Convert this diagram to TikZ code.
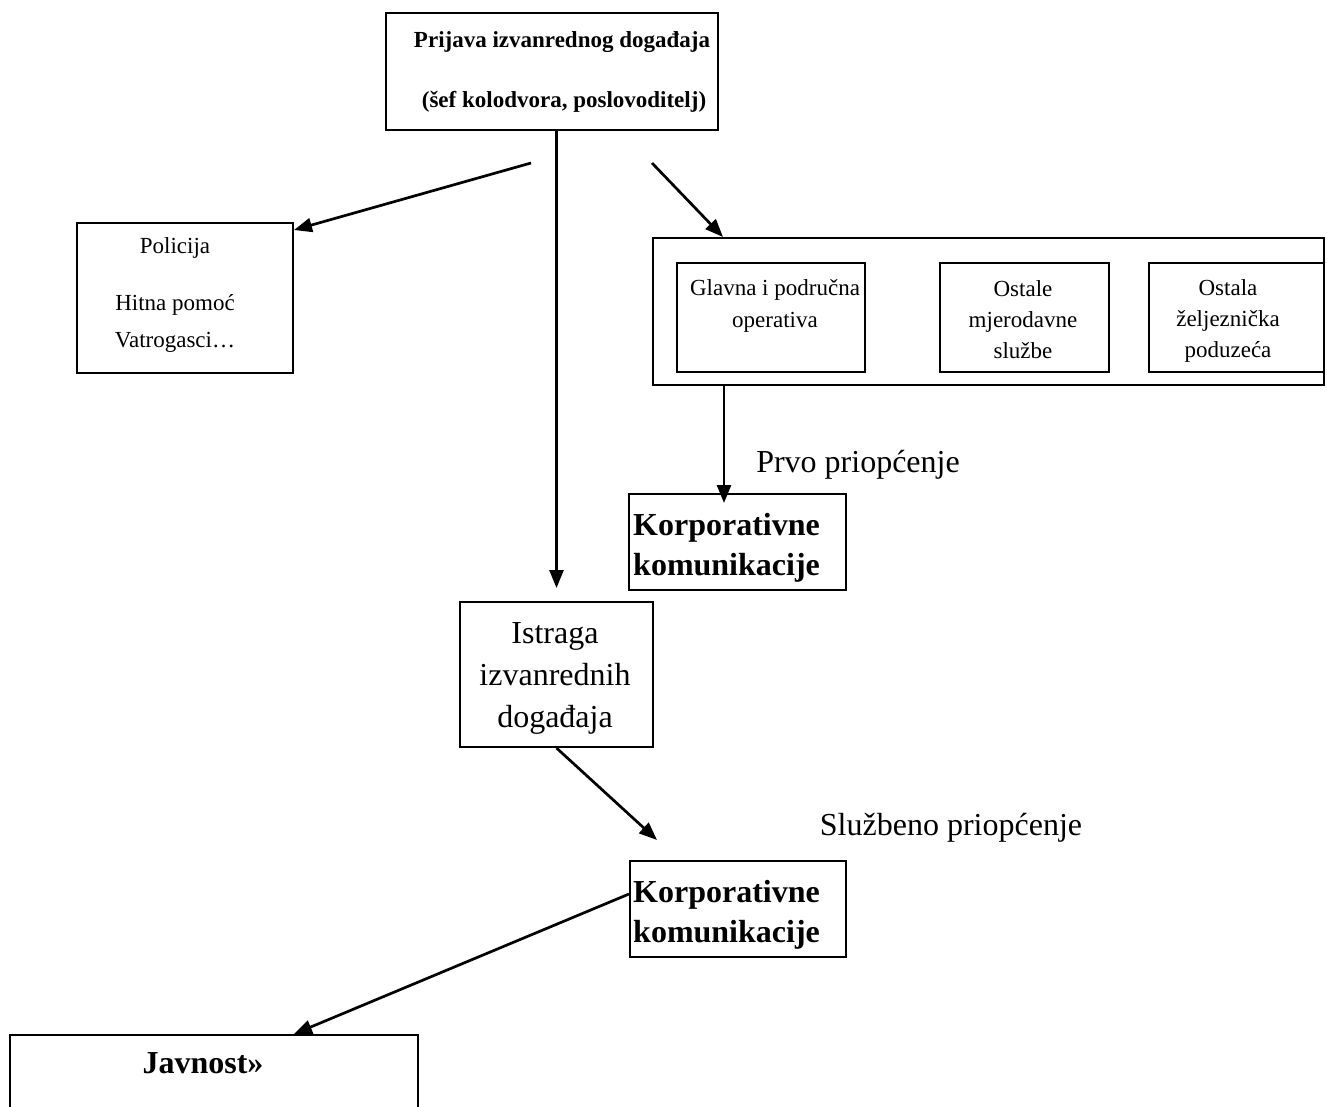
\documentclass[tikz,border=0pt]{standalone}
\usepackage{fontspec}
\setmainfont{Liberation Serif}
\usetikzlibrary{arrows.meta}
\begin{document}
\begin{tikzpicture}[x=1pt,y=-1pt,
  box/.style={draw,line width=2pt,inner sep=0pt,anchor=north west},
  conn/.style={line width=2.7pt,-{Triangle[length=18pt,width=14pt]}},
  small/.style={font=\fontsize{23}{31}\selectfont,align=center,inner sep=0pt},
  smallb/.style={font=\fontsize{23}{31}\selectfont\bfseries,align=center,inner sep=0pt},
  big/.style={font=\fontsize{32}{42}\selectfont,align=center,inner sep=0pt},
  bigb/.style={font=\fontsize{32}{40}\selectfont\bfseries,align=left,inner sep=0pt,anchor=west}]
\clip (0,0) rectangle (1327,1107);
\fill[white] (0,0) rectangle (1327,1107);

% boxes
\node[box,minimum width=332pt,minimum height=117pt] (top) at (385,12) {};
\node[box,minimum width=216pt,minimum height=150pt] (pol) at (76,222) {};
\node[box,minimum width=671pt,minimum height=147pt] (grp) at (652,237) {};
\node[box,minimum width=188pt,minimum height=109pt] (glav) at (676,262) {};
\node[box,minimum width=169pt,minimum height=109pt] (ost1) at (939,262) {};
\node[box,minimum width=175pt,minimum height=109pt] (ost2) at (1148,262) {};
\node[box,minimum width=217pt,minimum height=96pt] (kor1) at (628,493) {};
\node[box,minimum width=193pt,minimum height=145pt] (istr) at (459,601) {};
\node[box,minimum width=216pt,minimum height=96pt] (kor2) at (629,860) {};
\node[box,minimum width=408pt,minimum height=100pt] (jav) at (9,1034) {};

% texts
\node[smallb] (t1) at (562,42) {Prijava izvanrednog događaja};
\node[smallb] (t2) at (564,102) {(šef kolodvora, poslovoditelj)};
\node[small] (p1) at (175,248) {Policija};
\node[small] (p2) at (175,305) {Hitna pomoć};
\node[small] (p3) at (175,342) {Vatrogasci…};
\node[small,font=\fontsize{23}{32}\selectfont] (g1) at (775,306) {Glavna i područna\\operativa};
\node[small] (o1) at (1023,320) {Ostale\\mjerodavne\\službe};
\node[small] (o2) at (1228,321) {Ostala\\željeznička\\poduzeća};
\node[bigb] (k1) at (633,548) {Korporativne\\komunikacije};
\node[big] (i1) at (555,678) {Istraga\\izvanrednih\\događaja};
\node[bigb] (k2) at (633,915) {Korporativne\\komunikacije};
\node[big] (prvo) at (858,465) {Prvo priopćenje};
\node[big] (sluz) at (951,828) {Službeno priopćenje};
\node[big,font=\fontsize{32}{40}\selectfont\bfseries] (j1) at (203,1063) {Javnost»};

% connectors
\coordinate (s1) at (531,163);
\coordinate (s2) at (652,163);
\draw[conn] (s1) -- ([yshift=-8pt]pol.north east);
\draw[conn] (s2) -- ([xshift=71pt]grp.north west);
\draw[conn] (istr.north |- top.south) -- ([yshift=13pt]istr.north);
\coordinate (k) at ([xshift=96pt]kor1.north west);
\draw[conn] (k |- grp.south) -- ([yshift=-10pt]k);
\draw[conn] (istr.south) -- ([xshift=28pt,yshift=20pt]kor2.north west);
\draw[conn] ([yshift=15pt]kor2.west) -- ([xshift=80pt]jav.north);
\end{tikzpicture}
\end{document}
